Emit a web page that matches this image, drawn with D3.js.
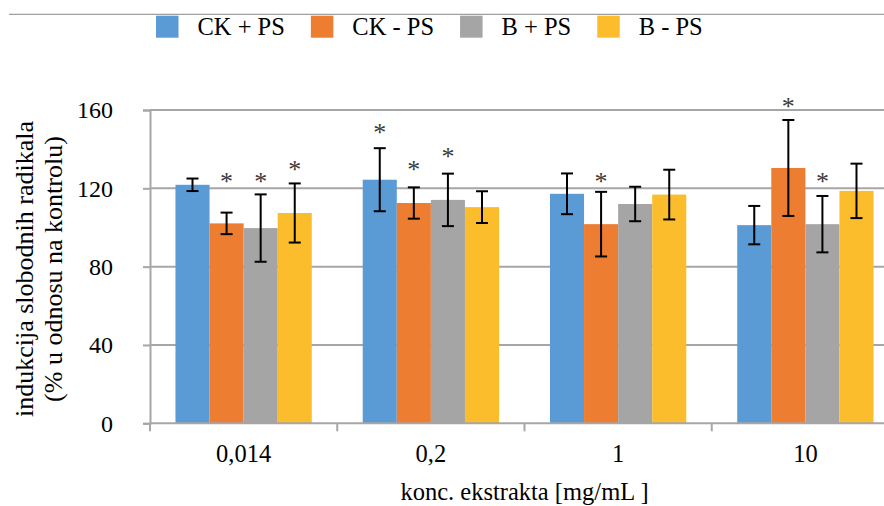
<!DOCTYPE html>
<html>
<head>
<meta charset="utf-8">
<script src="https://cdn.jsdelivr.net/npm/d3@7/dist/d3.min.js"></script>
<style>
  html, body { margin: 0; padding: 0; background: #fff; }
  svg { display: block; }
  svg text, svg tspan { font-family: "Liberation Serif", "Times New Roman", serif !important; }
</style>
</head>
<body>
<svg id="chart" width="884" height="506"></svg>
<script>
// ---- data ----
const categories = ["0,014", "0,2", "1", "10"];
const seriesNames = ["CK + PS", "CK - PS", "B + PS", "B - PS"];
const seriesColors = ["#5B9BD5", "#ED7D31", "#A5A5A5", "#FBBD2C"];

const ckPlusMeans  = [121.8, 124.4, 117.2, 101.2];
const ckPlusErr    = [3.2, 16.1, 10.4, 9.8];
const ckMinusMeans = [102.1, 112.5, 101.7, 130.4];
const ckMinusErr   = [5.5, 8.0, 16.5, 24.5];
const bPlusMeans   = [99.7, 114.1, 112.0, 101.7];
const bPlusErr     = [17.2, 13.4, 8.8, 14.4];
const bMinusMeans  = [107.4, 110.4, 116.8, 118.7];
const bMinusErr    = [15.1, 8.1, 12.7, 13.9];

// level (in y units) at which significance asterisks sit; null = none
const ckPlusStars  = [null, 150.2, null, null];
const ckMinusStars = [125.3, 131.4, 125.1, 163.4];
const bPlusStars   = [125.3, 137.9, null, 125.1];
const bMinusStars  = [131.4, null, null, null];

const yTicks = [0, 40, 80, 120, 160];
const yTitleLines = ["indukcija slobodnih radikala", "(% u odnosu na kontrolu)"];
const xTitle = "konc. ekstrakta [mg/mL ]";

const means = [ckPlusMeans, ckMinusMeans, bPlusMeans, bMinusMeans];
const errs = [ckPlusErr, ckMinusErr, bPlusErr, bMinusErr];
const stars = [ckPlusStars, ckMinusStars, bPlusStars, bMinusStars];

const rows = [];
categories.forEach((c, ci) => {
  seriesNames.forEach((s, si) => {
    rows.push({ cat: c, series: s, si, value: means[si][ci], err: errs[si][ci], star: stars[si][ci] });
  });
});

// ---- layout ----
const FONT = '"Liberation Serif", "Times New Roman", serif';
const svg = d3.select("#chart");
const W = 884;
const plotLeft = 150, plotRight = 899, plotTop = 110, plotBottom = 423.3;

const y = d3.scaleLinear().domain([0, 160]).range([plotBottom, plotTop]);
const x0 = d3.scaleBand().domain(categories).range([plotLeft, plotRight])
  .paddingInner(0.272).paddingOuter(0.136);
const x1 = d3.scaleBand().domain(seriesNames).range([0, x0.bandwidth()]);
const color = d3.scaleOrdinal().domain(seriesNames).range(seriesColors);

const gridColor = "#A6A6A6";

// top separator line
svg.append("line").attr("x1", 9).attr("x2", W).attr("y1", 14.3).attr("y2", 14.3)
  .attr("stroke", "#A0A0A0").attr("stroke-width", 1.3);

// gridlines
svg.append("g").selectAll("line").data(yTicks.filter(t => t > 0)).join("line")
  .attr("x1", plotLeft).attr("x2", W)
  .attr("y1", d => y(d)).attr("y2", d => y(d))
  .attr("stroke", gridColor).attr("stroke-width", 2);

// bars
const gBars = svg.append("g");
gBars.selectAll("rect").data(rows).join("rect")
  .attr("x", d => x0(d.cat) + x1(d.series))
  .attr("width", x1.bandwidth())
  .attr("y", d => y(d.value))
  .attr("height", d => y(0) - y(d.value))
  .attr("fill", d => color(d.series));

// y axis
const yAxis = d3.axisLeft(y).tickValues(yTicks).tickSize(7).tickPadding(30);
const gy = svg.append("g").attr("transform", `translate(${plotLeft},0)`).call(yAxis)
  .attr("font-family", FONT);
gy.select(".domain").attr("stroke", gridColor).attr("stroke-width", 2);
gy.selectAll(".tick line").attr("stroke", gridColor).attr("stroke-width", 2);
gy.selectAll(".tick text").attr("font-size", 24).style("font-family", FONT)
  .attr("fill", "#000").attr("x", -37).attr("dy", "0.33em");

// x axis line
svg.append("line").attr("x1", plotLeft).attr("x2", W).attr("y1", y(0)).attr("y2", y(0))
  .attr("stroke", gridColor).attr("stroke-width", 2);
// category boundary ticks
const bounds = categories.map(c => x0(c) - (x0.step() - x0.bandwidth()) / 2);
svg.append("g").selectAll("line").data(bounds).join("line")
  .attr("x1", d => d).attr("x2", d => d)
  .attr("y1", y(0)).attr("y2", y(0) + 8)
  .attr("stroke", gridColor).attr("stroke-width", 2);

// x tick labels
svg.append("g").selectAll("text").data(categories).join("text")
  .attr("x", d => x0(d) + x0.bandwidth() / 2)
  .attr("y", 462)
  .attr("text-anchor", "middle")
  .attr("font-size", 24.5)
  .style("font-family", FONT)
  .attr("fill", "#000")
  .text(d => d);

// error bars
const gErr = svg.append("g").attr("stroke", "#000").attr("stroke-width", 2);
const cx = d => x0(d.cat) + x1(d.series) + x1.bandwidth() / 2;
gErr.selectAll("line.v").data(rows).join("line").attr("class", "v")
  .attr("x1", cx).attr("x2", cx)
  .attr("y1", d => y(d.value + d.err)).attr("y2", d => y(d.value - d.err));
gErr.selectAll("line.t").data(rows).join("line").attr("class", "t")
  .attr("x1", d => cx(d) - 6).attr("x2", d => cx(d) + 6)
  .attr("y1", d => y(d.value + d.err)).attr("y2", d => y(d.value + d.err));
gErr.selectAll("line.b").data(rows).join("line").attr("class", "b")
  .attr("x1", d => cx(d) - 6).attr("x2", d => cx(d) + 6)
  .attr("y1", d => y(d.value - d.err)).attr("y2", d => y(d.value - d.err));

// asterisks
svg.append("g").selectAll("text").data(rows.filter(d => d.star !== null)).join("text")
  .attr("x", cx)
  .attr("y", d => y(d.star) + 12)
  .attr("text-anchor", "middle")
  .attr("font-size", 26)
  .style("font-family", FONT)
  .attr("fill", "#3a3a3a")
  .text("*");

// y title
const yt = svg.append("text")
  .attr("transform", "translate(0,269) rotate(-90)")
  .attr("text-anchor", "middle")
  .attr("font-size", 26)
  .style("font-family", FONT)
  .attr("fill", "#000");
yt.selectAll("tspan").data(yTitleLines).join("tspan")
  .attr("x", 0)
  .attr("y", (d, i) => 33 + i * 28.5)
  .style("font-family", FONT)
  .text(d => d);

// x title
svg.append("text")
  .attr("x", (plotLeft + plotRight) / 2)
  .attr("y", 500)
  .attr("text-anchor", "middle")
  .attr("font-size", 24.5)
  .style("font-family", FONT)
  .attr("fill", "#000")
  .text(xTitle);

// legend
const legend = svg.append("g");
let lx = 156;
seriesNames.forEach((s, i) => {
  legend.append("rect").attr("x", lx).attr("y", 15.7).attr("width", 22.5).attr("height", 22)
    .attr("fill", color(s));
  const t = legend.append("text").attr("x", lx + 22.5 + 19).attr("y", 35)
    .attr("font-size", 24.5).style("font-family", FONT).attr("fill", "#000").text(s);
  const w = t.node().getComputedTextLength();
  lx = lx + 22.5 + 19 + w + 26;
});
</script>
</body>
</html>
